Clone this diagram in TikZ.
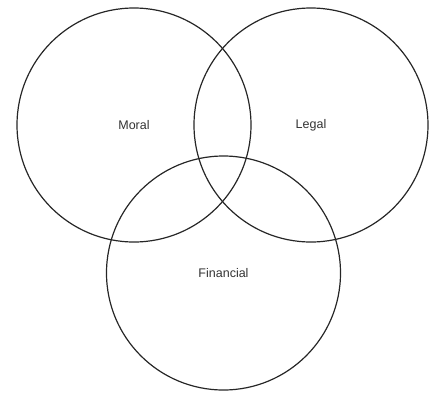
\documentclass[tikz,border=0pt]{standalone}
\usepackage{fontspec}
\setmainfont{Liberation Sans}
\usetikzlibrary{positioning}

\begin{document}
\begin{tikzpicture}[
    x=1pt, y=-1pt,
    font=\fontsize{12.5}{14}\selectfont,
    set/.style={circle, draw=black!85, line width=1.2pt, minimum size=234pt,
      inner sep=0pt, text=black!80}
  ]
  \useasboundingbox (0,0) rectangle (429,392);
  %---- sets ----
  \node[set] (moral)     at (134,125) {Moral};
  \node[set] (legal)     at (311,125) {Legal};
  \node[set] (financial) at (223.5,273) {Financial};
\end{tikzpicture}
\end{document}
